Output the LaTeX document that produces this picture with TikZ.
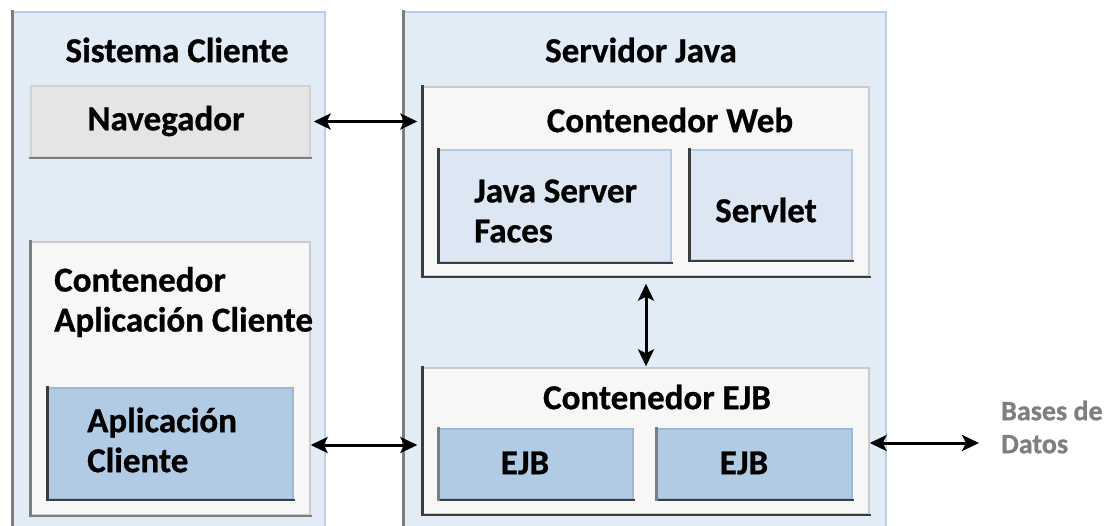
\documentclass[tikz,border=0pt]{standalone}
\usepackage{fontspec}
\setmainfont{Carlito}[BoldFeatures={FakeBold=0.8}]
\usetikzlibrary{arrows.meta}

\definecolor{panelfill}{HTML}{E2ECF7}
\definecolor{panelline}{HTML}{B9D0E8}
\definecolor{navfill}{HTML}{E5E5E5}
\definecolor{navline}{HTML}{D2D2D2}
\definecolor{contfill}{HTML}{F7F7F7}
\definecolor{contline}{HTML}{CACACA}
\definecolor{lightbox}{HTML}{DCE7F3}
\definecolor{lightboxline}{HTML}{B5CBE2}
\definecolor{darkbox}{HTML}{B1CBE5}
\definecolor{darkboxline}{HTML}{9DB8D4}
\definecolor{edgedark}{HTML}{3C3C3C}
\definecolor{edgemid}{HTML}{7E7E7E}
\definecolor{dbtext}{HTML}{7F7F7F}

\tikzset{
  box/.style={inner sep=0pt, line width=1.4pt},
  panel/.style={box, draw=panelline, fill=panelfill},
  navbox/.style={box, draw=navline, fill=navfill},
  container/.style={box, draw=contline, fill=contfill},
  lightcomp/.style={box, draw=lightboxline, fill=lightbox},
  darkcomp/.style={box, draw=darkboxline, fill=darkbox},
  shade/.style={line width=2.4pt, line cap=rect},
  lbl/.style={font=\bfseries\fontsize{35}{40}\selectfont, text=black, inner sep=0pt},
  dblbl/.style={font=\bfseries\fontsize{28}{33}\selectfont, text=dbtext, inner sep=0pt, align=left},
  tip/.style={Stealth[length=17pt,width=16pt,inset=4pt]},
  link/.style={{Stealth[length=17pt,width=16pt,inset=4pt]}-{Stealth[length=17pt,width=16pt,inset=4pt]}, line width=3pt, black},
}

\begin{document}
\begin{tikzpicture}[x=1pt,y=-1pt]
  \clip (0,0) rectangle (1107,525);
  \fill[white] (0,0) rectangle (1107,525);

  % main panels
  \node[panel, minimum width=312pt, minimum height=518pt] (sc) at (169,271) {};
  \node[panel, minimum width=482pt, minimum height=518pt] (sj) at (645,271) {};
  \draw[shade, edgemid] (sc.north west) -- (sc.south west);
  \draw[shade, edgemid] (sj.north west) -- (sj.south west);

  \node[lbl] (sctitle) at (177,50) {Sistema Cliente};
  \node[lbl] (sjtitle) at (641,50) {Servidor Java};

  % client side
  \node[navbox, minimum width=279pt, minimum height=71pt] (nav) at (170.5,121.5) {};
  \draw[shade, edgemid] (nav.south west) -- (nav.south east);
  \node[lbl] (navtxt) at (166,121) {Navegador};

  \node[container, minimum width=279pt, minimum height=273pt] (cac) at (170.5,378.5) {};
  \draw[shade, edgemid] (cac.north west) -- (cac.south west) -- (cac.south east);
  \node[lbl, anchor=west, align=left] (cactxt) at (54,302) {Contenedor\\Aplicación Cliente};

  \node[darkcomp, minimum width=245pt, minimum height=111pt] (ac) at (170.5,443.5) {};
  \draw[shade, edgedark] (ac.north west) -- (ac.south west) -- (ac.south east);
  \node[lbl, anchor=west, align=left] (actxt) at (87,440) {Aplicación\\Cliente};

  % web container
  \node[container, minimum width=446pt, minimum height=189pt] (cw) at (646,181.5) {};
  \draw[shade, edgedark] (cw.north west) -- (cw.south west) -- (cw.south east);
  \node[lbl] (cwtxt) at (670,120) {Contenedor Web};

  \node[lightcomp, minimum width=232pt, minimum height=112pt] (jsf) at (555,206) {};
  \draw[shade, edgedark] (jsf.north west) -- (jsf.south west) -- (jsf.south east);
  \node[lbl, anchor=west, align=left] (jsftxt) at (474,211) {Java Server\\Faces};

  \node[lightcomp, minimum width=162pt, minimum height=110pt] (sv) at (771,205) {};
  \draw[shade, edgedark] (sv.north west) -- (sv.south west) -- (sv.south east);
  \node[lbl] (svtxt) at (766,210) {Servlet};

  % EJB container
  \node[container, minimum width=446pt, minimum height=146pt] (ce) at (646,441) {};
  \draw[shade, edgedark] (ce.north west) -- (ce.south west) -- (ce.south east);
  \node[lbl] (cetxt) at (657,397) {Contenedor EJB};

  \node[darkcomp, minimum width=194pt, minimum height=70pt] (ejba) at (536,464) {};
  \draw[shade, edgedark] (ejba.south west) -- (ejba.south east);
  \draw[shade, edgemid] (ejba.north west) -- (ejba.south west);
  \node[lbl] (ejbatxt) at (525,463) {EJB};

  \node[darkcomp, minimum width=195pt, minimum height=70pt] (ejbb) at (754.5,464) {};
  \draw[shade, edgedark] (ejbb.south west) -- (ejbb.south east);
  \draw[shade, edgemid] (ejbb.north west) -- (ejbb.south west);
  \node[lbl] (ejbbtxt) at (744,463) {EJB};

  % database
  \node[dblbl, anchor=west] (db) at (1001,427) {Bases de\\Datos};
  \coordinate (dbend) at (979,443);

  % connections
  \draw[link, shorten <=3pt, shorten >=5pt] (nav.east) -- (nav.east -| cw.west);
  \draw[link, shorten >=5pt] (cac.east |- 0,445) -- (ce.west |- 0,445);
  \draw[link, shorten <=7pt, shorten >=1pt] (cw.south) -- (ce.north);
  \draw[link] (ce.east |- dbend) -- (dbend);
\end{tikzpicture}
\end{document}
